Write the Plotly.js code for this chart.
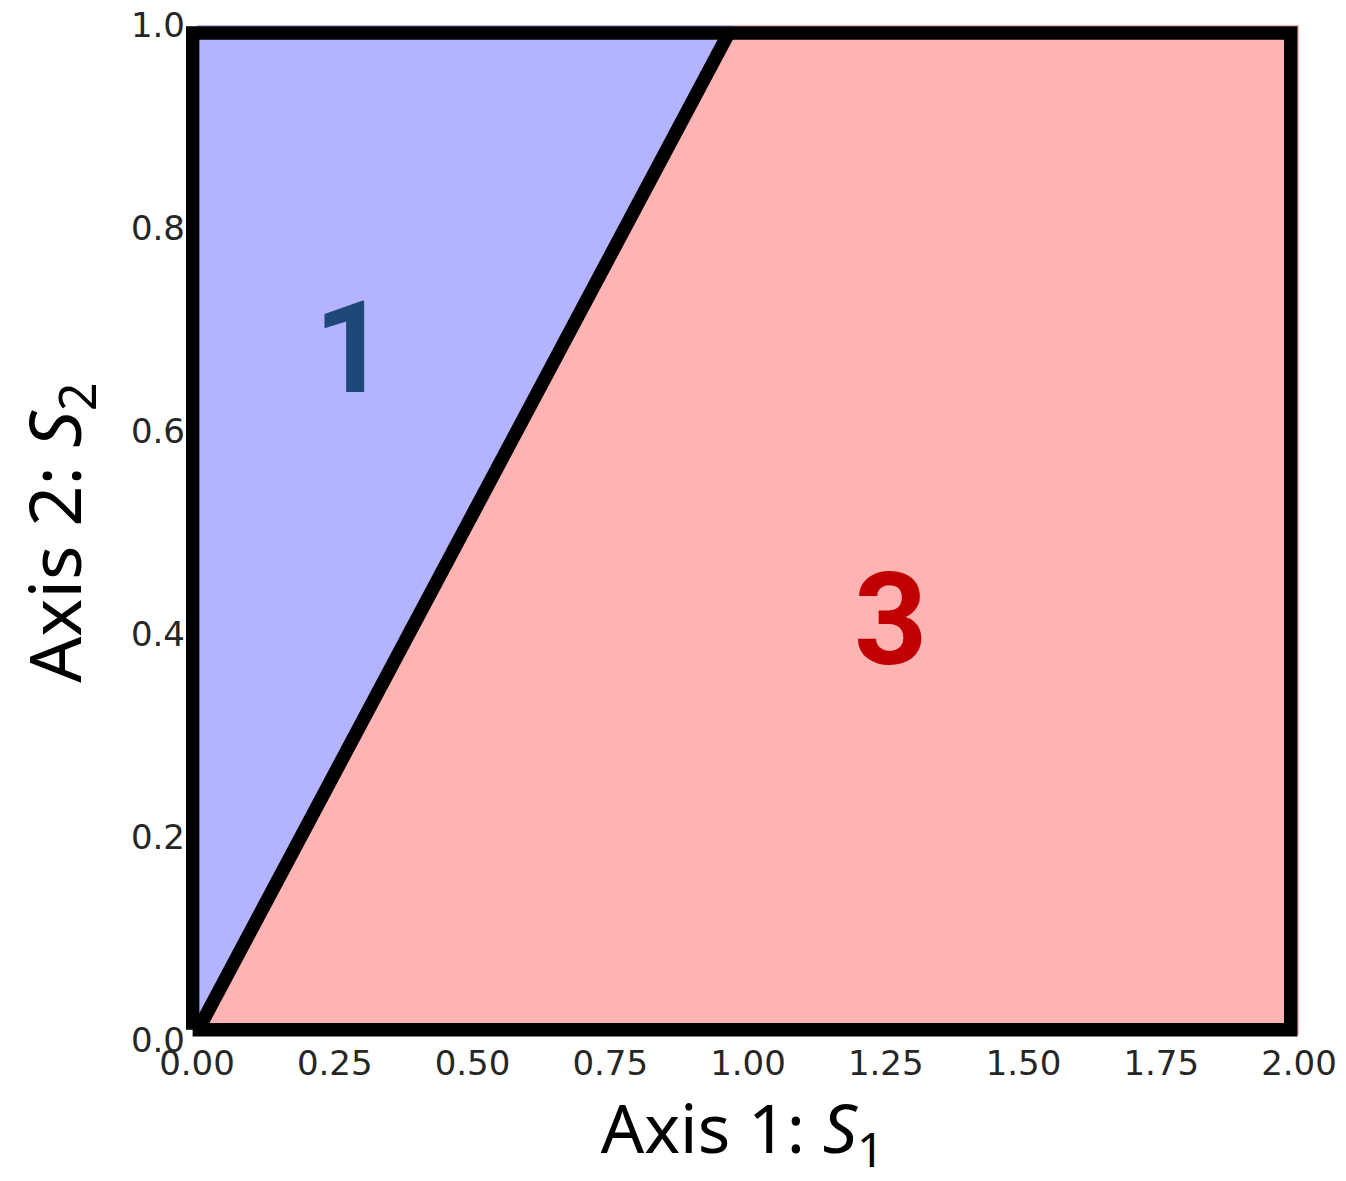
<!DOCTYPE html>
<html>
<head>
<meta charset="utf-8">
<script src="https://cdn.plot.ly/plotly-3.0.1.min.js"></script>
<style>html,body{margin:0;padding:0;background:#fff;}#chart{width:1346px;height:1181px;}</style>
</head>
<body>
<div id="chart"></div>
<script>
// Region 1 (blue) polygon
const region1X = [0, 0, 0.973, 0];
const region1Y = [0.005, 1, 1, 0.005];
// Region 3 (red) polygon
const region3X = [0, 0.973, 2, 2, 0];
const region3Y = [0.005, 1, 1, 0.005, 0.005];
// Outline of the domain
const outlineX = [-0.008, -0.008, 0.965, 1.985, 1.985, -0.008];
const outlineY = [0.01, 0.992, 0.992, 0.992, 0.01, 0.01];
// Boundary between regions 1 and 3
const boundaryX = [0.002, 0.965];
const boundaryY = [0.01, 0.992];
// Region labels
const labelText = ['1', '3'];
const labelX = [0.278, 1.258];
const labelY = [0.682, 0.414];
const labelColor = ['#1f4777', '#c00000'];
// Tick labels
const xTicks = [0, 0.25, 0.5, 0.75, 1, 1.25, 1.5, 1.75, 2];
const xTickText = ['0.00','0.25','0.50','0.75','1.00','1.25','1.50','1.75','2.00'];
const yTicks = [0, 0.2, 0.4, 0.6, 0.8, 1.0];
const yTickText = ['0.0','0.2','0.4','0.6','0.8','1.0'];

const traces = [
  {x: region1X, y: region1Y, mode: 'lines', fill: 'toself', fillcolor: '#b3b3ff', line: {width: 0}, hoverinfo: 'skip', showlegend: false},
  {x: region3X, y: region3Y, mode: 'lines', fill: 'toself', fillcolor: '#ffb3b3', line: {width: 0}, hoverinfo: 'skip', showlegend: false},
  {x: outlineX, y: outlineY, mode: 'lines', line: {color: '#000', width: 13.5}, hoverinfo: 'skip', showlegend: false},
  {x: boundaryX, y: boundaryY, mode: 'lines', line: {color: '#000', width: 13.5}, hoverinfo: 'skip', showlegend: false}
];

const annotations = labelText.map((t, i) => ({
  x: labelX[i], y: labelY[i], xref: 'x', yref: 'y', text: t, showarrow: false,
  xanchor: 'center', yanchor: 'middle',
  font: {family: 'Roboto', size: 128, weight: 700, color: labelColor[i]}
}));

const tickFont = {family: 'DejaVu Sans, sans-serif', size: 34, color: '#262626'};

const layout = {
  width: 1346, height: 1181,
  margin: {l: 186, r: 47, t: 25, b: 141, pad: 0},
  paper_bgcolor: '#fff', plot_bgcolor: '#fff',
  showlegend: false,
  xaxis: {
    range: [-0.02, 2], tickvals: xTicks, ticktext: xTickText, tickfont: tickFont,
    showgrid: false, zeroline: false, showline: false, ticks: '',
    title: {text: 'Axis 1: <i>S</i><sub>1</sub>', font: {family: 'Noto Sans, sans-serif', size: 68, color: '#000'}, standoff: 10},
    fixedrange: true
  },
  yaxis: {
    range: [0, 1], tickvals: yTicks, ticktext: yTickText, tickfont: tickFont,
    showgrid: false, zeroline: false, showline: false, ticks: '',
    title: {text: 'Axis 2: <i>S</i><sub>2</sub>', font: {family: 'Noto Sans, sans-serif', size: 72, color: '#000'}, standoff: 25},
    fixedrange: true
  },
  annotations: annotations
};

Plotly.newPlot('chart', traces, layout, {staticPlot: true, displayModeBar: false});
</script>
</body>
</html>
